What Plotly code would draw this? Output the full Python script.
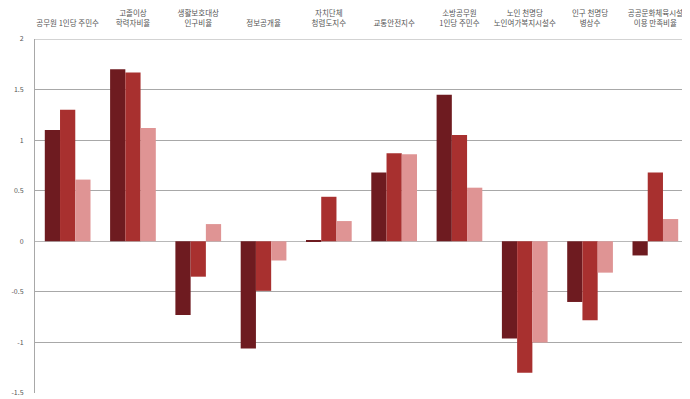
import plotly.graph_objects as go

categories = [
    "공무원 1인당 주민수",
    "고졸이상<br>학력자비율",
    "생활보호대상<br>인구비율",
    "정보공개율",
    "자치단체<br>청렴도지수",
    "교통안전지수",
    "소방공무원<br>1인당 주민수",
    "노인 천명당<br>노인여가복지시설수",
    "인구 천명당<br>병상수",
    "공공문화체육시설<br>이용 만족비율",
]
series_a = [1.10, 1.70, -0.73, -1.06, 0.01, 0.68, 1.45, -0.96, -0.60, -0.14]
series_b = [1.30, 1.67, -0.35, -0.49, 0.44, 0.87, 1.05, -1.30, -0.78, 0.68]
series_c = [0.61, 1.12, 0.17, -0.19, 0.20, 0.86, 0.53, -1.00, -0.31, 0.22]
y_ticks = [2, 1.5, 1, 0.5, 0, -0.5, -1, -1.5]
y_tick_labels = ["2", "1.5", "1", "0.5", "0", "-0.5", "-1", "-1.5"]

colors = ["#6e1b20", "#a8302f", "#df9494"]

fig = go.Figure()
for vals, col, name in zip([series_a, series_b, series_c], colors, ["A", "B", "C"]):
    fig.add_trace(go.Bar(x=categories, y=vals, name=name,
                         marker=dict(color=col, line=dict(width=0))))

fig.update_layout(
    width=690, height=399,
    margin=dict(l=27, r=10, t=31, b=14, autoexpand=False),
    barmode="group", bargap=0.3, bargroupgap=0,
    showlegend=False,
    plot_bgcolor="white", paper_bgcolor="white",
    font=dict(family="Noto Sans CJK KR, Noto Sans", size=7, color="#555"),
)
fig.update_xaxes(side="top", showgrid=False, ticks="", showline=False, automargin=False,
                 ticklabelstandoff=11, tickfont=dict(size=7.5, color="#555"))
fig.update_yaxes(range=[-1.5, 2], tickvals=y_ticks, ticktext=y_tick_labels, automargin=False,
                 showgrid=True, gridcolor="#a8a8a8", gridwidth=1,
                 zeroline=True, zerolinecolor="#b8b8b8", zerolinewidth=1,
                 showline=True, linecolor="#a8a8a8", linewidth=1,
                 ticks="", ticklabelstandoff=9, tickfont=dict(size=7, color="#555"))
fig.add_shape(type="line", xref="paper", yref="y", x0=0, x1=1, y0=2, y1=2,
              line=dict(color="#a8a8a8", width=1))

fig.write_html("out.html")
